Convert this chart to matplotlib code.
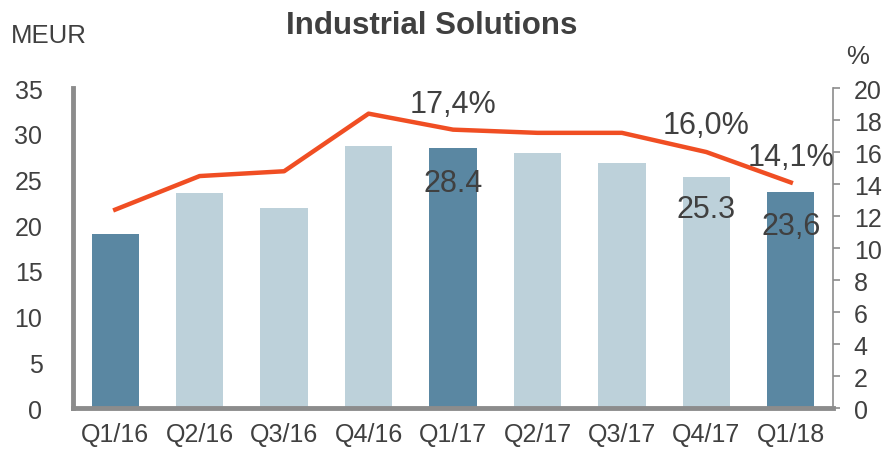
import matplotlib
matplotlib.use("Agg")
import matplotlib.pyplot as plt

plt.rcParams["font.family"] = ["Liberation Sans", "DejaVu Sans"]

# -------------------------------
# Data
# -------------------------------
quarters = ["Q1/16", "Q2/16", "Q3/16", "Q4/16", "Q1/17", "Q2/17", "Q3/17", "Q4/17", "Q1/18"]
ebit_meur = [19.0, 23.5, 21.9, 28.7, 28.4, 27.9, 26.8, 25.3, 23.6]
margin_pct = [12.4, 14.5, 14.8, 18.4, 17.4, 17.2, 17.2, 16.0, 14.1]
highlight = [True, False, False, False, True, False, False, False, True]

dark_blue = "#5A87A2"
light_blue = "#BDD1DA"
orange = "#F04E23"
text_col = "#404040"
spine_col = "#8C8C8C"

# -------------------------------
# Figure
# -------------------------------
fig = plt.figure(figsize=(8.9, 4.52), dpi=100)
ax = fig.add_axes([0.082, 0.095, 0.854, 0.708])
ax2 = ax.twinx()

x = range(len(quarters))
colors = [dark_blue if h else light_blue for h in highlight]
ax.bar(x, ebit_meur, width=0.56, color=colors, zorder=2)

ax.set_xlim(-0.5, len(quarters) - 0.5)
ax.set_ylim(0, 35)
ax.set_yticks(range(0, 36, 5))
ax.set_xticks(list(x))
ax.set_xticklabels(quarters)
ax.tick_params(axis="both", length=0, labelsize=18, colors=text_col)
ax.tick_params(axis="y", pad=22)
ax.tick_params(axis="x", pad=10)

for side in ["top", "right"]:
    ax.spines[side].set_visible(False)
ax.spines["left"].set_color(spine_col)
ax.spines["left"].set_linewidth(3.5)
ax.spines["bottom"].set_color(spine_col)
ax.spines["bottom"].set_linewidth(3.5)

# margin line on right axis
ax2.plot(list(x), margin_pct, color=orange, linewidth=3.2, zorder=3)
ax2.set_ylim(0, 20)
ax2.set_yticks(range(0, 21, 2))
ax2.tick_params(axis="y", length=5, width=1.2, color=spine_col,
                labelsize=18, labelcolor=text_col, pad=10)
for side in ["top", "left", "bottom"]:
    ax2.spines[side].set_visible(False)
ax2.spines["right"].set_color(spine_col)
ax2.spines["right"].set_linewidth(1.2)

# -------------------------------
# Labels
# -------------------------------
ax2.text(4, 19.0, "17,4%", fontsize=22, color=text_col, ha="center", va="center")
ax2.text(7, 17.7, "16,0%", fontsize=22, color=text_col, ha="center", va="center")
ax2.text(8, 15.7, "14,1%", fontsize=22, color=text_col, ha="center", va="center")
ax.text(4, 24.6, "28.4", fontsize=22, color=text_col, ha="center", va="center")
ax.text(7, 21.8, "25.3", fontsize=22, color=text_col, ha="center", va="center")
ax.text(8, 19.9, "23,6", fontsize=22, color=text_col, ha="center", va="center")

fig.text(0.485, 0.943, "Industrial Solutions", fontsize=22.5, fontweight="bold",
         color=text_col, ha="center", va="center")
fig.text(0.012, 0.92, "MEUR", fontsize=18.5, color=text_col, ha="left", va="center")
fig.text(0.964, 0.875, "%", fontsize=18.5, color=text_col, ha="center", va="center")

fig.savefig("out.png", dpi=100)
